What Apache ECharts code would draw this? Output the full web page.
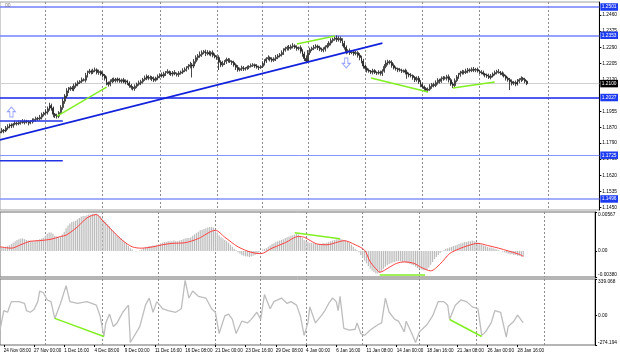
<!DOCTYPE html>
<html><head><meta charset="utf-8">
<script src="https://cdn.jsdelivr.net/npm/echarts@6/dist/echarts.min.js"></script>
<style>html,body{margin:0;padding:0;background:#fff}#c{width:620px;height:357px}</style>
</head><body><div id="c"></div>
<script>
// ---------- DATA (EUR/USD H4) ----------
const firstOpen = 1.1842;
const closes = [
1.1848,1.1856,1.1852,1.1868,1.1874,1.1883,1.1879,1.1888,1.1893,1.1890,
1.1897,1.1902,1.1896,1.1904,1.1899,1.1893,1.1901,1.1906,1.1912,1.1918,
1.1915,1.1924,1.1938,1.1946,1.1952,1.1968,1.1985,1.1972,1.1940,1.1932,
1.1929,1.1948,1.1975,1.2008,1.2035,1.2062,1.2070,1.2078,1.2072,1.2088,
1.2098,1.2106,1.2112,1.2120,1.2118,1.2142,1.2158,1.2165,1.2160,1.2168,
1.2172,1.2158,1.2163,1.2150,1.2142,1.2128,1.2105,1.2096,1.2110,1.2122,
1.2115,1.2124,1.2118,1.2112,1.2120,1.2108,1.2114,1.2102,1.2090,1.2081,
1.2074,1.2086,1.2097,1.2104,1.2110,1.2122,1.2130,1.2138,1.2128,1.2132,
1.2125,1.2118,1.2130,1.2138,1.2146,1.2140,1.2152,1.2158,1.2163,1.2155,
1.2150,1.2158,1.2152,1.2147,1.2155,1.2160,1.2168,1.2175,1.2183,1.2190,
1.2198,1.2192,1.2215,1.2236,1.2245,1.2252,1.2262,1.2268,1.2258,1.2263,
1.2255,1.2262,1.2248,1.2240,1.2236,1.2212,1.2198,1.2205,1.2215,1.2226,
1.2220,1.2216,1.2210,1.2198,1.2185,1.2172,1.2178,1.2184,1.2176,1.2180,
1.2186,1.2190,1.2195,1.2199,1.2192,1.2186,1.2183,1.2190,1.2205,1.2218,
1.2230,1.2236,1.2228,1.2222,1.2230,1.2238,1.2245,1.2252,1.2262,1.2275,
1.2283,1.2290,1.2285,1.2294,1.2298,1.2290,1.2284,1.2288,1.2270,1.2255,
1.2232,1.2218,1.2262,1.2278,1.2285,1.2290,1.2296,1.2288,1.2280,1.2274,
1.2280,1.2292,1.2300,1.2312,1.2325,1.2332,1.2338,1.2330,1.2336,1.2325,
1.2310,1.2290,1.2268,1.2272,1.2262,1.2266,1.2258,1.2262,1.2248,1.2236,
1.2218,1.2192,1.2180,1.2170,1.2165,1.2160,1.2168,1.2158,1.2155,1.2160,
1.2152,1.2165,1.2190,1.2208,1.2215,1.2210,1.2195,1.2182,1.2178,1.2172,
1.2170,1.2165,1.2168,1.2160,1.2150,1.2145,1.2142,1.2132,1.2120,1.2128,
1.2110,1.2095,1.2084,1.2074,1.2065,1.2070,1.2085,1.2095,1.2090,1.2105,
1.2118,1.2112,1.2125,1.2130,1.2128,1.2136,1.2120,1.2098,1.2090,1.2115,
1.2135,1.2148,1.2155,1.2162,1.2158,1.2166,1.2172,1.2168,1.2175,1.2170,
1.2174,1.2166,1.2162,1.2158,1.2150,1.2145,1.2140,1.2132,1.2140,1.2150,
1.2158,1.2164,1.2160,1.2156,1.2148,1.2140,1.2128,1.2120,1.2110,1.2102,
1.2106,1.2098,1.2112,1.2120,1.2128,1.2122,1.2112,1.2100];
// wick lengths in pips above / below the body
const upperWick = [
8,11,6,10,13,8,9,6,12,8, 10,6,12,8,6,10,8,12,6,9, 8,12,10,6,14,12,15,10,8,6, 10,8,12,15,10,14,12,8,10,12,
8,10,6,12,8,14,10,12,8,10, 12,8,10,6,12,8,10,6,12,8, 10,6,8,12,6,10,8,6,10,8, 6,10,8,12,10,8,12,10,6,10,
8,12,6,10,8,12,10,8,12,6, 10,8,12,6,10,8,12,10,8,12, 16,10,14,12,10,16,12,8,10,12, 10,8,12,10,8,12,10,14,8,10,
8,12,6,10,8,12,6,10,8,6, 8,6,10,8,6,10,8,6,12,10, 8,12,6,10,8,12,10,8,12,10, 10,8,12,10,14,8,10,6,12,10,
12,16,14,10,8,12,10,8,10,8, 10,8,12,10,12,8,10,14,12,10, 12,14,10,8,12,10,8,10,8,12, 10,12,8,10,8,6,10,8,6,10,
8,10,12,14,10,8,12,10,8,6, 10,8,6,10,12,8,10,6,8,10, 12,8,10,6,8,10,12,8,10,12, 10,8,12,10,8,10,12,8,10,12,
10,8,12,10,8,12,10,8,10,12, 8,10,6,8,10,6,8,12,10,8, 10,8,12,6,8,10,6,8,10,12, 8,10,12,8,10,6,8,6];
const lowerWick = [
10,8,12,6,10,8,12,10,6,10, 8,12,6,10,8,12,6,10,8,12, 10,8,12,10,8,14,10,14,16,12, 12,10,8,12,14,10,12,8,10,12,
10,12,8,10,6,12,10,8,12,10, 8,10,12,8,10,12,14,12,10,8, 8,10,12,8,10,6,12,10,12,12, 10,12,10,8,12,10,8,12,10,8,
12,10,8,12,10,8,10,12,8,10, 10,12,8,10,12,8,10,8,12,10, 10,60,12,10,14,10,12,8,14,10, 8,12,10,8,12,41,12,10,8,12,
10,8,12,10,14,10,8,12,10,8, 8,10,6,8,10,8,12,6,8,10, 10,8,12,10,8,12,10,8,10,12, 8,10,12,8,10,8,12,10,12,14,
14,12,10,12,8,10,8,12,10,8, 10,12,8,10,12,10,8,12,10,12, 14,12,14,10,12,8,12,10,12,14, 12,14,10,12,8,10,12,8,10,8,
10,12,8,10,12,10,12,8,10,12, 8,10,8,12,25,12,10,12,12,10, 12,14,10,12,9,10,8,12,10,8, 10,12,8,10,8,12,14,10,13,10,
8,10,12,8,10,8,12,10,8,10, 10,8,12,10,8,12,10,8,10,8, 8,10,8,12,10,8,12,10,44,12, 10,12,8,10,12,8,10,8];

const macdHist = [
0.0006,0.0006,0.0005,0.0006,0.0007,0.0008,0.0010,0.0012,0.0014,0.0016,
0.0017,0.0018,0.0018,0.0017,0.0016,0.0015,0.0015,0.0014,0.0014,0.0015,
0.0016,0.0017,0.0018,0.0019,0.0022,0.0025,0.0027,0.0027,0.0025,0.0022,
0.0021,0.0020,0.0021,0.0024,0.0028,0.0033,0.0037,0.0040,0.0042,0.0043,
0.0044,0.0046,0.0048,0.0050,0.0051,0.0051,0.0052,0.0053,0.0053,0.0054,
0.0054,0.0054,0.0053,0.0051,0.0048,0.0045,0.0042,0.0039,0.0036,0.0032,
0.0029,0.0026,0.0023,0.0021,0.0019,0.0016,0.0013,0.0010,0.0007,0.0004,
0.0002,0.0000,-0.0001,0.0000,0.0001,0.0002,0.0004,0.0005,0.0006,0.0007,
0.0007,0.0008,0.0008,0.0009,0.0010,0.0011,0.0012,0.0013,0.0013,0.0014,
0.0014,0.0014,0.0015,0.0014,0.0014,0.0015,0.0016,0.0017,0.0018,0.0019,
0.0019,0.0020,0.0022,0.0024,0.0026,0.0028,0.0030,0.0031,0.0032,0.0033,
0.0034,0.0035,0.0035,0.0034,0.0031,0.0027,0.0023,0.0020,0.0018,0.0016,
0.0014,0.0012,0.0009,0.0006,0.0003,0.0001,-0.0002,-0.0004,-0.0006,-0.0007,
-0.0008,-0.0008,-0.0009,-0.0008,-0.0007,-0.0006,-0.0004,-0.0002,0.0000,0.0002,
0.0003,0.0004,0.0006,0.0008,0.0010,0.0011,0.0013,0.0014,0.0015,0.0016,
0.0017,0.0019,0.0020,0.0021,0.0022,0.0023,0.0024,0.0025,0.0024,0.0022,
0.0019,0.0016,0.0014,0.0013,0.0012,0.0012,0.0011,0.0011,0.0010,0.0010,
0.0010,0.0011,0.0011,0.0012,0.0013,0.0014,0.0015,0.0016,0.0017,0.0018,
0.0018,0.0017,0.0016,0.0015,0.0014,0.0012,0.0009,0.0006,0.0003,0.0001,
-0.0002,-0.0006,-0.0010,-0.0014,-0.0018,-0.0022,-0.0026,-0.0029,-0.0031,-0.0033,
-0.0033,-0.0032,-0.0029,-0.0026,-0.0023,-0.0021,-0.0019,-0.0018,-0.0017,-0.0016,
-0.0015,-0.0015,-0.0015,-0.0016,-0.0016,-0.0017,-0.0018,-0.0019,-0.0020,-0.0021,
-0.0023,-0.0025,-0.0026,-0.0027,-0.0028,-0.0028,-0.0027,-0.0024,-0.0020,-0.0016,
-0.0012,-0.0009,-0.0006,-0.0003,-0.0001,0.0001,0.0003,0.0004,0.0005,0.0006,
0.0007,0.0008,0.0009,0.0010,0.0011,0.0012,0.0013,0.0013,0.0014,0.0014,
0.0015,0.0014,0.0013,0.0012,0.0010,0.0009,0.0008,0.0007,0.0006,0.0005,
0.0005,0.0004,0.0003,0.0002,0.0001,0.0000,-0.0001,-0.0002,-0.0003,-0.0004,
-0.0005,-0.0005,-0.0006,-0.0006,-0.0007,-0.0007,-0.0008,-0.0008];
const macdSignal = [[0,0.0006],[6,0.0004],[11,0.0009],[16,0.0014],[21,0.0015],[27,0.0017],[32,0.0021],[35,0.0023],[41,0.0035],[46,0.0048],[51,0.0053],[54,0.0045],[60,0.0028],[65,0.0015],[70,0.0006],[75,0.0004],[81,0.0006],[86,0.0009],[91,0.0011],[98,0.0012],[105,0.0018],[114,0.0030],[119,0.0020],[126,0.0006],[133,-0.0002],[138,-0.0004],[144,0.0004],[151,0.0012],[158,0.0021],[161,0.0020],[163,0.0017],[168,0.0010],[173,0.0009],[179,0.0013],[182,0.0015],[188,0.0009],[193,0.0001],[196,-0.0016],[200,-0.0029],[201,-0.0031],[206,-0.0024],[210,-0.0018],[214,-0.0016],[219,-0.0018],[223,-0.0024],[228,-0.0029],[233,-0.0019],[238,-0.0004],[243,0.0003],[248,0.0008],[253,0.0011],[258,0.0008],[264,0.0004],[269,0.0000],[275,-0.0005],[277,-0.0008]];
const cci = [[0,-135],[2,46],[4,30],[6,129],[7,144],[10,129],[13,112],[14,46],[16,30],[18,56],[20,129],[21,227],[23,211],[25,144],[27,129],[29,-30],[32,112],[35,277],[37,129],[41,112],[46,129],[51,96],[53,-4],[55,-195],[56,-69],[58,13],[60,-103],[62,-69],[65,30],[68,96],[69,-251],[70,-267],[74,-103],[77,96],[79,162],[81,30],[83,129],[86,63],[89,46],[93,30],[96,63],[98,326],[100,162],[102,227],[105,178],[109,162],[112,63],[114,30],[116,-168],[117,-168],[119,-4],[121,13],[123,-36],[125,-168],[128,-53],[131,-69],[133,-36],[136,30],[138,-36],[140,195],[143,63],[145,129],[149,162],[152,112],[154,129],[157,96],[159,-4],[161,-185],[163,-69],[164,80],[167,-69],[170,-4],[172,46],[174,112],[176,162],[178,129],[179,46],[180,178],[182,-119],[185,-135],[188,-128],[189,-69],[191,-168],[193,-185],[196,-135],[200,-86],[202,-69],[204,162],[206,30],[209,-36],[211,-53],[214,-152],[215,-53],[218,-168],[220,-251],[222,-152],[226,-86],[229,-4],[232,129],[235,129],[237,96],[238,-36],[241,96],[244,144],[247,129],[250,80],[253,63],[255,-185],[257,-152],[260,-69],[262,46],[265,30],[268,-201],[269,-103],[272,-53],[274,3],[277,-69]];

const timeLabels = ['24 Nov 08:00','27 Nov 00:00','1 Dec 16:00','4 Dec 08:00','9 Dec 00:00','11 Dec 16:00','16 Dec 08:00','21 Dec 00:00','23 Dec 16:00','29 Dec 08:00','4 Jan 00:00','6 Jan 16:00','11 Jan 08:00','14 Jan 00:00','18 Jan 16:00','21 Jan 08:00','26 Jan 00:00','28 Jan 16:00'];
const firstLabelBar = 2, barsPerLabel = 16, totalSlots = 316;
const weekStarts = [24,54,84,114,138,162,192,222,252,288];
const priceTicks = [1.1450,1.1535,1.1620,1.1705,1.1790,1.1870,1.1955,1.2120,1.2205,1.2290,1.2375,1.2460];
const levels = [
  {price:1.2501, fib:''}, {price:1.2353, fib:'200.0'}, {price:1.2027, fib:'161.8'},
  {price:1.1725, fib:'127.2'}, {price:1.1496, fib:'100.0'}];
const lastPrice = 1.2100;
const trendLine = [[0,1.1805],[201,1.2312]];
const shortLines = [[[0,1.1904],[33,1.1904]], [[0,1.1696],[33,1.1696]]];
const priceGreen = [[[30,1.1930],[56,1.2082]], [[156,1.2307],[176,1.2349]], [[195,1.2129],[225,1.2056]], [[238,1.2077],[260,1.2108]]];
const macdGreen = [[[156,0.00266],[180,0.00176]], [[201,-0.0035],[225,-0.0035]]];
const cciGreen = [[[29,-27],[55,-195]], [[238,-37],[255,-195]]];
const arrowUp = [[6,1.1951]], arrowDown = [[182,1.2208]];
const macdRange = [-0.0038, 0.00567], cciRange = [-274.194, 339.068];

// ---------- BUILD ----------
const pip = 0.0001;
const opens = [firstOpen].concat(closes.slice(0, -1));
const ohlc = closes.map((c, i) => {
  const o = opens[i];
  return [o, c, Math.min(o, c) - lowerWick[i] * pip, Math.max(o, c) + upperWick[i] * pip];
});
const cats = Array.from({length: totalSlots}, (_, i) => String(i));
const isLabelBar = i => i >= firstLabelBar && (i - firstLabelBar) % barsPerLabel === 0 &&
  (i - firstLabelBar) / barsPerLabel < timeLabels.length;

const FONT = 'Liberation Sans';
const levelColors = ['#6f7ff8', '#7383fa', '#1424e6', '#8696ff', '#8595fa'];
const levelWidths = [1.5, 1.5, 1.5, 1, 1.5];

const mkX = (gi, labels) => ({
  type: 'category', gridIndex: gi, data: cats, boundaryGap: false,
  axisLine: {show: false, onZero: false},
  axisTick: labels ? {show: true, interval: i => isLabelBar(i), length: 2, lineStyle: {color: '#000'}} : {show: false},
  axisLabel: labels ? {show: true, interval: i => isLabelBar(i), align: 'left',
    formatter: (v, i) => timeLabels[(i - firstLabelBar) / barsPerLabel] || '',
    fontSize: 4.6, fontFamily: FONT, color: '#000', margin: 3} : {show: false},
  splitLine: {show: true, interval: i => weekStarts.includes(i), lineStyle: {color: '#8c8c8c', type: [2, 2], width: 1}}
});
const yLab = {fontSize: 4.8, fontFamily: FONT, color: '#000', margin: 3};
const fmt0 = d => v => (Math.abs(v) < 1e-12 ? '0.00' : v.toFixed(d));

const lineS = (data, xi, color, width, extra) => Object.assign({
  type: 'line', xAxisIndex: xi, yAxisIndex: xi, data: data, symbol: 'none', silent: true,
  lineStyle: {color: color, width: width}, z: 5
}, extra || {});

const markData = [];
levels.forEach((l, k) => {
  markData.push({yAxis: l.price, lineStyle: {color: levelColors[k], width: levelWidths[k], type: 'solid'},
    label: {show: true, position: 'end', distance: 1, formatter: l.price.toFixed(4), color: '#fff',
      backgroundColor: '#1d3cf0', padding: [1.5, 1.5, 1, 1.5], fontSize: 4.8, fontFamily: FONT}});
  if (l.fib) markData.push({yAxis: l.price, lineStyle: {opacity: 0},
    label: {show: true, position: 'insideEndTop', distance: 1, formatter: l.fib, color: '#6676f0', fontSize: 4.6, fontFamily: FONT}});
});
markData.push({yAxis: lastPrice, lineStyle: {color: '#cfcfcf', width: 1, type: 'solid'},
  label: {show: true, position: 'end', distance: 1, formatter: lastPrice.toFixed(4), color: '#fff',
    backgroundColor: '#000', padding: [1.5, 1.5, 1, 1.5], fontSize: 4.8, fontFamily: FONT}});

const series = [
  {type: 'candlestick', xAxisIndex: 0, yAxisIndex: 0, data: ohlc, barWidth: 1.4, z: 3,
   itemStyle: {color: '#ffffff', color0: '#1a1a1a', borderColor: '#1a1a1a', borderColor0: '#1a1a1a', borderWidth: 0.8},
   markLine: {silent: true, symbol: ['none', 'none'], precision: 4, animation: false, data: markData, z: 2}},
  lineS(trendLine, 0, '#1222dc', 1.6),
  ...shortLines.map(d => lineS(d, 0, '#2333e4', 1.5)),
  ...priceGreen.map(d => lineS(d, 0, '#80f020', 1.5)),
  {type: 'scatter', xAxisIndex: 0, yAxisIndex: 0, data: arrowUp, symbol: 'path://M5,0 L10,5 L7,5 L7,11 L3,11 L3,5 L0,5 Z',
   symbolSize: [8, 10], itemStyle: {color: 'rgba(255,255,255,0)', borderColor: '#7d8cff', borderWidth: 1}, z: 6, silent: true},
  {type: 'scatter', xAxisIndex: 0, yAxisIndex: 0, data: arrowDown, symbol: 'path://M3,0 L7,0 L7,6 L10,6 L5,11 L0,6 L3,6 Z',
   symbolSize: [8, 10], itemStyle: {color: 'rgba(255,255,255,0)', borderColor: '#7d8cff', borderWidth: 1}, z: 6, silent: true},
  {type: 'bar', xAxisIndex: 1, yAxisIndex: 1, data: macdHist, barWidth: 1.2, itemStyle: {color: '#bcbcbc'}, silent: true},
  lineS(macdSignal, 1, '#ff4040', 1, {smooth: 0.3}),
  ...macdGreen.map(d => lineS(d, 1, '#80f020', 1.5)),
  lineS(cci, 2, '#bdbdbd', 1.3),
  ...cciGreen.map(d => lineS(d, 2, '#80f020', 1.5))
];

const gridBase = {left: -0.82, width: 601, show: true, borderColor: '#6a6a6a', borderWidth: 1, backgroundColor: 'transparent'};
const option = {
  animation: false,
  backgroundColor: '#ffffff',
  title: {text: '00', left: 0, top: -2, textStyle: {fontSize: 5, color: '#777', fontWeight: 'normal', fontFamily: FONT}},
  grid: [
    Object.assign({}, gridBase, {top: 2, height: 208, borderColor: '#a0a0a0'}),
    Object.assign({}, gridBase, {top: 212, height: 65}),
    Object.assign({}, gridBase, {top: 279, height: 66})
  ],
  xAxis: [mkX(0, false), mkX(1, false), mkX(2, true)],
  yAxis: [
    {type: 'value', gridIndex: 0, position: 'right', min: 1.14382, max: 1.25272, scale: true,
     splitLine: {show: false}, axisLine: {show: true, lineStyle: {color: '#000'}},
     axisTick: {show: true, length: 2, customValues: priceTicks, lineStyle: {color: '#000'}},
     axisLabel: Object.assign({customValues: priceTicks, formatter: v => v.toFixed(4)}, yLab)},
    {type: 'value', gridIndex: 1, position: 'right', min: macdRange[0], max: macdRange[1],
     splitLine: {show: false}, axisLine: {show: true, lineStyle: {color: '#000'}},
     axisTick: {show: true, length: 2, customValues: [macdRange[0], 0, macdRange[1]], lineStyle: {color: '#000'}},
     axisLabel: Object.assign({customValues: [macdRange[0], 0, macdRange[1]], formatter: fmt0(5),
       verticalAlignMinLabel: 'bottom', verticalAlignMaxLabel: 'top'}, yLab)},
    {type: 'value', gridIndex: 2, position: 'right', min: cciRange[0], max: cciRange[1],
     splitLine: {show: false}, axisLine: {show: true, lineStyle: {color: '#000'}},
     axisTick: {show: true, length: 2, customValues: [cciRange[0], 0, cciRange[1]], lineStyle: {color: '#000'}},
     axisLabel: Object.assign({customValues: [cciRange[0], 0, cciRange[1]], formatter: fmt0(3),
       verticalAlignMinLabel: 'bottom', verticalAlignMaxLabel: 'top'}, yLab)}
  ],
  series: series
};
const chart = echarts.init(document.getElementById('c'), null, {renderer: 'canvas'});
chart.setOption(option);
</script></body></html>
